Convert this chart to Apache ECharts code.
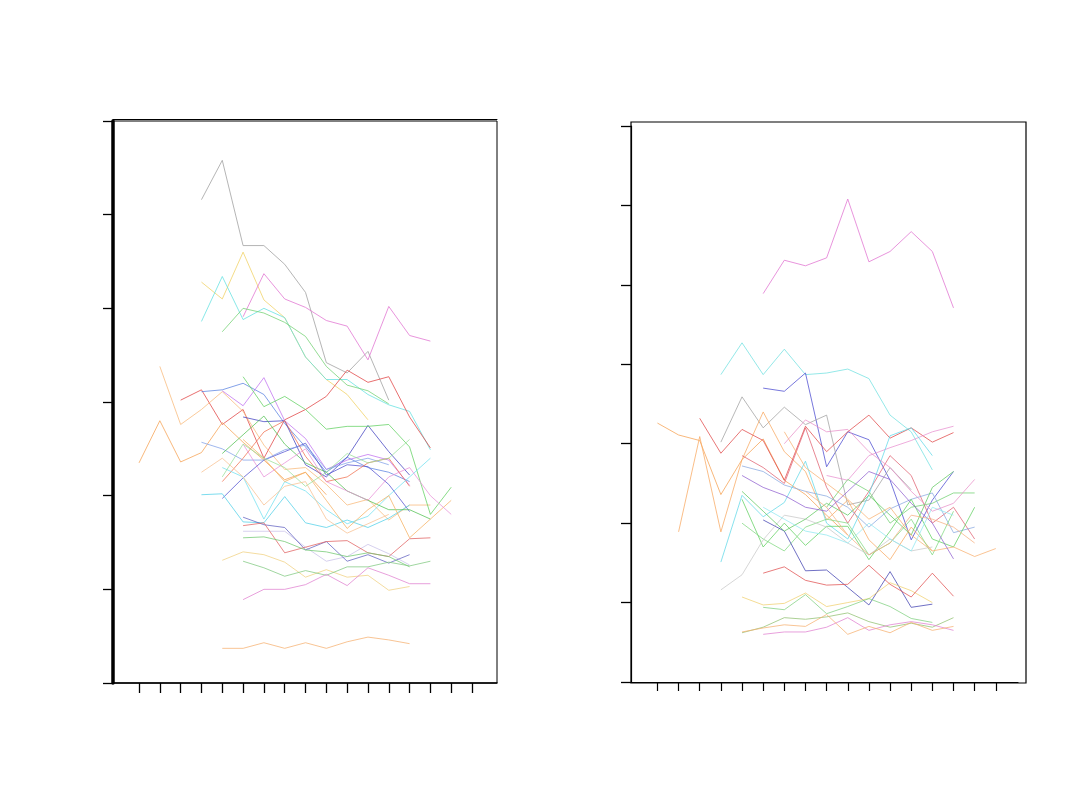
<!DOCTYPE html>
<html>
<head>
<meta charset="utf-8">
<script src="https://cdn.jsdelivr.net/npm/echarts@6/dist/echarts.min.js"></script>
<style>html,body{margin:0;padding:0;background:#fff}#c{width:1080px;height:810px}</style>
</head>
<body>
<div id="c"></div>
<script>
// x tick positions (periods)
const xTicks = [1,2,3,4,5,6,7,8,9,10,11,12,13,14,15,16,17];

// LEFT PANEL: first period of each line, and its values
const leftStarts = [4,4,4,6,3,5,1,2,4,6,5,6,5,4,4,5,6,6,6,6,5,6,6,5,5,5,6,6,5,4];
const leftValues = [
  [51.6,55.8,46.7,46.7,44.7,41.7,34.2,33.1,35.4,30.2],
  [42.8,41.0,46.0,40.9,39.0,34.8,32.4,30.8,28.1],
  [38.6,43.4,38.8,40.0,39.0,34.8,32.4,32.4,30.8,29.7,29.0,24.9],
  [39.1,43.7,41.0,40.1,38.7,38.1,34.5,40.2,37.1,36.5],
  [30.2,31.3,27.6,29.2,24.0,28.1,29.2,30.6,33.4,32.1,32.7,28.4,25.1],
  [37.5,40.0,39.5,38.5,37.0,33.8,31.8,31.2,29.8],
  [23.5,28.0,23.6,24.6,27.8,25.7,23.8,21.7,22.5,20.1],
  [33.8,27.6,29.2,31.1,29.0,25.4,22.8,23.0,21.2,19.0,19.6,17.4,19.0,19.0],
  [31.1,31.3,32.0,30.8,27.7,25.2,22.5,24.1,23.0,22.5,21.5],
  [28.4,27.9,28.0,23.3,22.0,24.1,27.5,24.7,22.2],
  [31.2,29.6,32.6,28.0,26.1,22.8,23.8,24.4,23.8,21.1],
  [32.7,29.5,30.6,29.2,27.1,27.4,27.4,27.6,25.2,18.0,20.9],
  [19.7,21.9,23.8,24.7,25.6,22.2,23.3,23.1,21.2,18.3],
  [20.1,20.2,17.2,17.1,19.9,17.1,16.6,17.4,16.6,17.6,19.0],
  [25.7,25.0,23.8,23.8,24.9,25.4,22.8,23.5,24.0,23.3],
  [21.5,24.0,26.8,28.0,24.2,21.5,22.0,23.5,24.0,21.0],
  [16.2,16.2,16.2,14.5,13.0,13.5,14.8,13.8,12.6],
  [17.7,16.9,16.6,14.2,15.1,13.0,13.7,12.8,13.7],
  [16.8,17.1,13.9,14.5,15.1,15.2,13.9,13.5,15.4,15.5],
  [15.5,15.6,15.1,14.2,14.0,13.5,13.9,13.5,12.4],
  [13.1,14.0,13.7,12.9,11.3,12.1,11.3,11.5,9.9,10.3],
  [13.0,12.3,11.4,12.0,11.5,12.4,12.4,12.9,12.5,13.0],
  [8.9,10.0,10.0,10.5,11.6,10.4,12.3,11.5,10.6,10.6],
  [3.7,3.7,4.3,3.7,4.3,3.7,4.4,4.9,4.6,4.2],
  [23.0,22.0,17.5,21.5,20.5,18.5,17.0,17.8,20.0,22.0,24.0],
  [24.5,26.5,28.5,25.5,23.5,22.5,20.5,19.5,18.5,18.5,17.5],
  [26.0,24.0,21.5,22.5,19.5,16.5,18.5,20.0,15.5,17.5,19.5],
  [25.5,22.0,23.5,25.0,21.5,20.5,19.5,22.0,23.0,20.0,18.0],
  [22.0,25.5,24.0,23.0,21.0,22.5,24.5,23.5,24.0,26.0],
  [22.5,24.0,22.0,19.0,21.0,21.5,17.5,16.0,17.0,18.0]
];

// RIGHT PANEL
const rightStarts = [6,4,6,4,1,2,3,5,9,9,5,4,5,5,6,5,6,5,6,5,4,5,7,5,6,8,6,7];
const rightValues = [
  [48.9,53.1,52.4,53.4,60.8,52.9,54.2,56.7,54.2,47.1],
  [38.7,42.7,38.7,41.9,38.7,38.9,39.4,38.2,33.6,31.5,26.7],
  [37.0,36.6,38.9,27.1,31.5,30.5,25.4,17.9,22.9,26.5],
  [30.2,35.9,32.0,34.6,32.4,33.6,22.3,22.9,27.0,24.2],
  [32.6,31.1,30.4,23.6,28.0,30.6,25.4,23.6,21.0,18.5],
  [18.9,30.9,18.9,28.0,34.0,29.0,26.5,20.4,22.9,17.9,15.4,19.5,16.5],
  [33.2,28.8,31.8,30.4,25.4,32.2,29.0,31.5,33.6,30.7,32.0,30.2,31.4],
  [28.5,27.0,25.0,32.0,24.5,20.0,24.0,28.5,26.0,20.0,22.0,18.0],
  [26.0,25.4,28.5,29.5,30.4,31.5,32.2],
  [22.0,25.5,24.0,20.0,22.0,22.5,23.8,23.8],
  [27.2,26.5,24.8,24.0,23.4,22.0,19.5,21.8,23.0,23.8,18.8,19.5],
  [15.1,23.5,20.8,22.6,27.8,20.0,18.0,23.6,31.0,32.0,28.5],
  [23.0,17.0,20.0,17.2,19.6,19.6,15.4,19.0,23.0,18.0,17.0,22.0],
  [20.0,18.0,16.5,19.5,20.5,20.0,16.0,17.5,20.5,16.0,21.5],
  [20.4,19.0,14.0,14.1,11.9,9.7,13.9,9.4,9.8],
  [10.7,9.7,9.9,11.2,9.5,10.0,10.5,12.5,11.5,10.0],
  [9.4,9.1,11.0,8.6,9.5,10.5,9.5,8.0,7.5],
  [6.2,6.9,8.1,7.9,8.2,8.7,7.6,6.9,7.4,6.9,8.1],
  [6.0,6.3,6.3,6.9,8.1,6.5,7.2,7.6,7.2,6.5],
  [6.3,6.8,7.2,7.0,8.5,6.0,7.0,6.2,7.5,6.5,7.0],
  [11.6,13.5,17.9,21.0,20.5,19.5,17.5,16.0,18.0,16.5,17.0],
  [24.0,21.5,19.0,20.5,22.5,21.0,23.5,21.0,18.5,24.5,26.5],
  [31.5,27.0,25.0,23.0,20.5,22.0,18.5,16.5,17.0,15.8,16.8],
  [26.0,24.5,23.5,22.0,21.5,24.0,26.5,25.5,22.5,20.0,15.5],
  [13.7,14.5,12.8,12.2,12.3,14.7,12.3,10.7,13.7,10.8],
  [24.0,22.0,18.5,16.0,17.5,21.0,20.5,19.5,17.5],
  [22.0,20.5,19.0,18.5,17.5,20.0,18.0,16.5,22.0,21.0],
  [30.0,33.0,31.5,31.8,29.0,27.0,24.0,21.5,22.5,25.5]
];

const leftColors = ['#9c9c9c','#f0d060','#60e0e0','#e070d0','#e04040','#70d070','#f5a050','#f8b878',
  '#5a82e0','#4040c0','#c070f0','#60d060','#5050d0','#50d0e8','#80a0e8','#f07050','#c8c0e8','#6060c0',
  '#e06060','#70c870','#f0d080','#80c880','#e080d0','#f5b070','#70e0f0','#50c050','#f5b060','#e890d8','#98e098','#f8c090'];
const rightColors = ['#e070d0','#70e0e0','#4a4ad0','#a0a0a0','#f5a050','#f8a860','#e04848','#e06070',
  '#e890d0','#70d070','#88a8e0','#60d8e8','#60d060','#80d880','#4040b0','#f0d070','#80d080','#90c070',
  '#e080d0','#f5b070','#c8c8c8','#60c860','#f8b070','#9060d0','#e05050','#f5b080','#90e8f0','#e890c8'];

function build(starts, values, colors, xi, yi) {
  return values.map((vals, i) => ({
    type: 'line',
    xAxisIndex: xi, yAxisIndex: yi,
    data: vals.map((v, j) => [starts[i] + j, v]),
    showSymbol: false, symbol: 'none', silent: true, animation: false,
    lineStyle: { width: 1, color: colors[i % colors.length], opacity: 0.75 }
  }));
}

const hiddenAxis = { show: false };
const option = {
  backgroundColor: '#fff',
  animation: false,
  grid: [
    { left: 113, top: 121, width: 384, height: 562, show: true, borderColor: '#000', borderWidth: 1, backgroundColor: 'transparent' },
    { left: 631, top: 122, width: 395, height: 561, show: true, borderColor: '#000', borderWidth: 1.2, backgroundColor: 'transparent' },
    { left: 631, top: 126, width: 387, height: 556, show: false }
  ],
  xAxis: [
    { gridIndex: 0, type: 'value', min: -0.25, max: 18.2, position: 'bottom',
      axisLine: { show: true, onZero: false, lineStyle: { color: '#000', width: 1.5 } },
      axisTick: { show: true, length: 10, inside: false, customValues: xTicks, lineStyle: { color: '#000', width: 1.3 } },
      axisLabel: { show: false }, splitLine: { show: false } },
    { gridIndex: 0, type: 'value', min: -0.25, max: 18.2, position: 'top', offset: 2,
      axisLine: { show: true, onZero: false, lineStyle: { color: '#000', width: 1 } },
      axisTick: { show: false }, axisLabel: { show: false }, splitLine: { show: false } },
    Object.assign({ gridIndex: 1, type: 'value', min: 0, max: 1 }, hiddenAxis),
    { gridIndex: 2, type: 'value', min: -0.25, max: 18.05, position: 'bottom',
      axisLine: { show: true, onZero: false, lineStyle: { color: '#000', width: 1.2 } },
      axisTick: { show: true, length: 9, inside: false, customValues: xTicks, lineStyle: { color: '#000', width: 1.2 } },
      axisLabel: { show: false }, splitLine: { show: false } }
  ],
  yAxis: [
    { gridIndex: 0, type: 'value', min: 0, max: 60, interval: 10, position: 'left',
      axisLine: { show: true, onZero: false, lineStyle: { color: '#000', width: 3.5 } },
      axisTick: { show: true, length: 10, inside: false, lineStyle: { color: '#000', width: 1.3 } },
      axisLabel: { show: false }, splitLine: { show: false } },
    Object.assign({ gridIndex: 1, type: 'value', min: 0, max: 1 }, hiddenAxis),
    { gridIndex: 2, type: 'value', min: 0, max: 70, interval: 10, position: 'left',
      axisLine: { show: true, onZero: false, lineStyle: { color: '#000', width: 1.2 } },
      axisTick: { show: true, length: 10, inside: false, lineStyle: { color: '#000', width: 1.3 } },
      axisLabel: { show: false }, splitLine: { show: false } }
  ],
  series: [].concat(
    build(leftStarts, leftValues, leftColors, 0, 0),
    build(rightStarts, rightValues, rightColors, 3, 2)
  )
};
const chart = echarts.init(document.getElementById('c'), null, { renderer: 'canvas' });
chart.setOption(option);
</script>
</body>
</html>
